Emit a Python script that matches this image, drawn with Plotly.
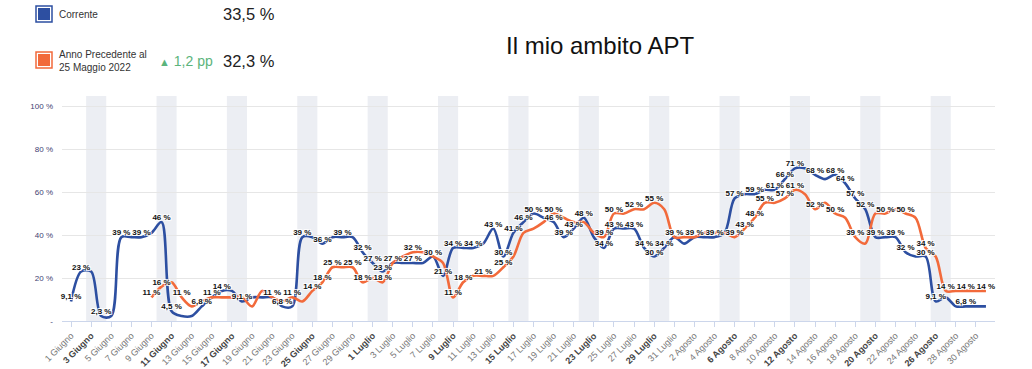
import plotly.graph_objects as go
import pandas as pd

# ---------------- data ----------------
start_date = "2023-06-01"
mesi = {6: "Giugno", 7: "Luglio", 8: "Agosto"}

corrente = [9.1, 23, 23, 2.3, 2.3, 39, 39, 39, 41, 46,
            4.5, 2.3, 2.3, 6.8, 11, 14, 14, 9.1, 11, 11,
            11, 6.8, 6.8, 39, 39, 36, 39, 39, 39, 32,
            27, 23, 27, 27, 27, 27, 30, 21, 34, 34,
            34, 36, 43, 30, 41, 46, 50, 48, 46, 39,
            43, 48, 39, 34, 43, 43, 43, 34, 30, 34,
            39, 36, 39, 39, 39, 41, 57, 59, 59, 61,
            61, 66, 71, 71, 68, 66, 68, 64, 57, 52,
            39, 39, 39, 32, 30, 30, 9.1, 11, 6.8, 6.8,
            6.8, 6.8]

precedente = [None, None, None, None, None, None, None, None, 11, 16,
              18, 11, 6.8, 9.1, 11, 11, 11, 11, 6.8, 14,
              11, 9.1, 11, 9.1, 14, 18, 25, 25, 25, 18,
              20, 18, 27, 30, 32, 32, 30, 27, 11, 18,
              21, 21, 21, 25, 30, 41, 43, 46, 50, 48,
              46, 46, 41, 39, 50, 50, 52, 52, 55, 52,
              39, 39, 39, 41, 41, 41, 39, 43, 48, 55,
              55, 57, 61, 59, 52, 55, 50, 48, 39, 36,
              50, 50, 52, 50, 48, 34, 30, 14, 14, 14,
              14, 14]

# indices whose data labels are visible in the reference
label_idx_corrente = [0, 1, 3, 5, 7, 9, 10, 13, 14, 15, 17, 20, 21, 23, 25, 27, 29, 30, 31,
                      34, 36, 37, 38, 40, 42, 43, 44, 45, 46, 48, 49, 50, 51, 53, 54, 56,
                      57, 58, 59, 60, 62, 64, 66, 68, 70, 71, 72, 74, 76, 77, 78, 79, 80, 82,
                      83, 85, 86, 89]
label_idx_precedente = [8, 9, 11, 22, 24, 25, 26, 28, 29, 31, 32, 34, 38, 39, 41, 43, 48, 53,
                        54, 56, 58, 66, 67, 68, 69, 71, 72, 74, 76, 78, 81, 83, 85, 87, 89, 91]

y_ticks = [0, 20, 40, 60, 80, 100]

kpi_corrente = "33,5 %"
kpi_precedente = "32,3 %"
kpi_delta = "1,2 pp"
nome_corrente = "Corrente"
nome_precedente = "Anno Precedente al<br>25 Maggio 2022"
titolo = "Il mio ambito APT"

# ---------------- styling ----------------
BLUE = "#2d4fa1"
ORANGE = "#f26a3b"
GREEN = "#5bb47c"
FONT = "Liberation Sans, Arial, sans-serif"

W, H = 1032, 369
ML, MR, MT, MB = 62, 37, 96, 48
PW, PH = W - ML - MR, H - MT - MB


def px(xp):
    return (xp - ML) / PW


def py(yp):
    return (H - MB - yp) / PH


def fmt(v):
    if v >= 10:
        return f"{round(v)} %"
    return f"{v:.1f}".replace(".", ",") + " %"


dates = pd.date_range(start_date, periods=len(corrente), freq="D")

fig = go.Figure()

fig.add_trace(go.Scatter(x=dates, y=corrente, mode="lines", name=nome_corrente,
                         line=dict(color=BLUE, width=2.6, shape="spline", smoothing=0.9),
                         hoverinfo="skip", showlegend=False))
fig.add_trace(go.Scatter(x=dates, y=precedente, mode="lines", name="Anno Precedente",
                         line=dict(color=ORANGE, width=2.6, shape="spline", smoothing=0.9),
                         connectgaps=False, hoverinfo="skip", showlegend=False))

shadow = "1px 1px 0px #fff, -1px -1px 0px #fff, 1px -1px 0px #fff, -1px 1px 0px #fff"
for vals, idx in ((corrente, label_idx_corrente), (precedente, label_idx_precedente)):
    fig.add_trace(go.Scatter(x=[dates[i] for i in idx], y=[vals[i] for i in idx],
                             mode="text", text=["<b>" + fmt(vals[i]) + "</b>" for i in idx],
                             textposition="top center",
                             textfont=dict(family=FONT, size=8, color="#111", shadow=shadow),
                             cliponaxis=False, hoverinfo="skip", showlegend=False))

# weekend bands
shapes = []
for d in dates:
    if d.weekday() == 5:
        shapes.append(dict(type="rect", xref="x", yref="paper",
                           x0=d - pd.Timedelta(hours=12), x1=d + pd.Timedelta(hours=36),
                           y0=0, y1=1, fillcolor="#eceef3", line=dict(width=0), layer="below"))

# legend boxes
for yc, col in ((14, BLUE), (60, ORANGE)):
    shapes.append(dict(type="rect", xref="paper", yref="paper",
                       x0=px(36), x1=px(52), y0=py(yc + 8), y1=py(yc - 8),
                       fillcolor="white", line=dict(color=col, width=1.5)))
    shapes.append(dict(type="rect", xref="paper", yref="paper",
                       x0=px(38), x1=px(50), y0=py(yc + 6), y1=py(yc - 6),
                       fillcolor=col, line=dict(width=0)))

# x ticks every two days, bold on weekends
tickvals = list(dates[::2])
ticktext = []
for d in tickvals:
    lab = f"{d.day} {mesi[d.month]}"
    if d.weekday() >= 5:
        lab = f"<b><span style='color:#444'>{lab}</span></b>"
    ticktext.append(lab)

annotations = [
    dict(text=nome_corrente, x=px(57), y=py(14), xref="paper", yref="paper",
         xanchor="left", yanchor="middle", showarrow=False,
         font=dict(family=FONT, size=10, color="#333")),
    dict(text=nome_precedente, x=px(57), y=py(61), xref="paper", yref="paper",
         xanchor="left", yanchor="middle", align="left", showarrow=False,
         font=dict(family=FONT, size=10, color="#333")),
    dict(text=kpi_corrente, x=px(221), y=py(14), xref="paper", yref="paper",
         xanchor="left", yanchor="middle", showarrow=False,
         font=dict(family=FONT, size=16.5, color="#222")),
    dict(text=kpi_precedente, x=px(221), y=py(61), xref="paper", yref="paper",
         xanchor="left", yanchor="middle", showarrow=False,
         font=dict(family=FONT, size=16.5, color="#222")),
    dict(text="<span style='font-size:11px'>▲</span> " + kpi_delta, x=px(157), y=py(61),
         xref="paper", yref="paper", xanchor="left", yanchor="middle", showarrow=False,
         font=dict(family=FONT, size=14, color=GREEN)),
    dict(text=titolo, x=px(600), y=py(45), xref="paper", yref="paper",
         xanchor="center", yanchor="middle", showarrow=False,
         font=dict(family=FONT, size=24, color="#111")),
]

fig.update_layout(
    width=W, height=H,
    margin=dict(l=ML, r=MR, t=MT, b=MB, autoexpand=False),
    paper_bgcolor="white", plot_bgcolor="white",
    shapes=shapes, annotations=annotations,
    showlegend=False,
    xaxis=dict(type="date", automargin=False,
               range=[dates[0] - pd.Timedelta(days=0.9), dates[0] + pd.Timedelta(days=91.9)],
               tickvals=tickvals, ticktext=ticktext, tickangle=-45,
               tickfont=dict(family=FONT, size=9, color="#777"),
               showgrid=False, showline=True, linecolor="#ccd6eb", linewidth=1,
               ticks="outside", ticklen=5, tickcolor="#ccd6eb", zeroline=False),
    yaxis=dict(range=[0, 104.65], tickvals=y_ticks, automargin=False,
               ticktext=["-"] + [f"{v} %" for v in y_ticks[1:]],
               tickfont=dict(family=FONT, size=8, color="#414172"),
               showgrid=True, gridcolor="#e6e6e6", gridwidth=1,
               zeroline=False, showline=False, ticks="", ticklabelstandoff=8),
)

fig.write_html("out.html", config={"displayModeBar": False},
               post_script="document.body.style.margin='0px';")
